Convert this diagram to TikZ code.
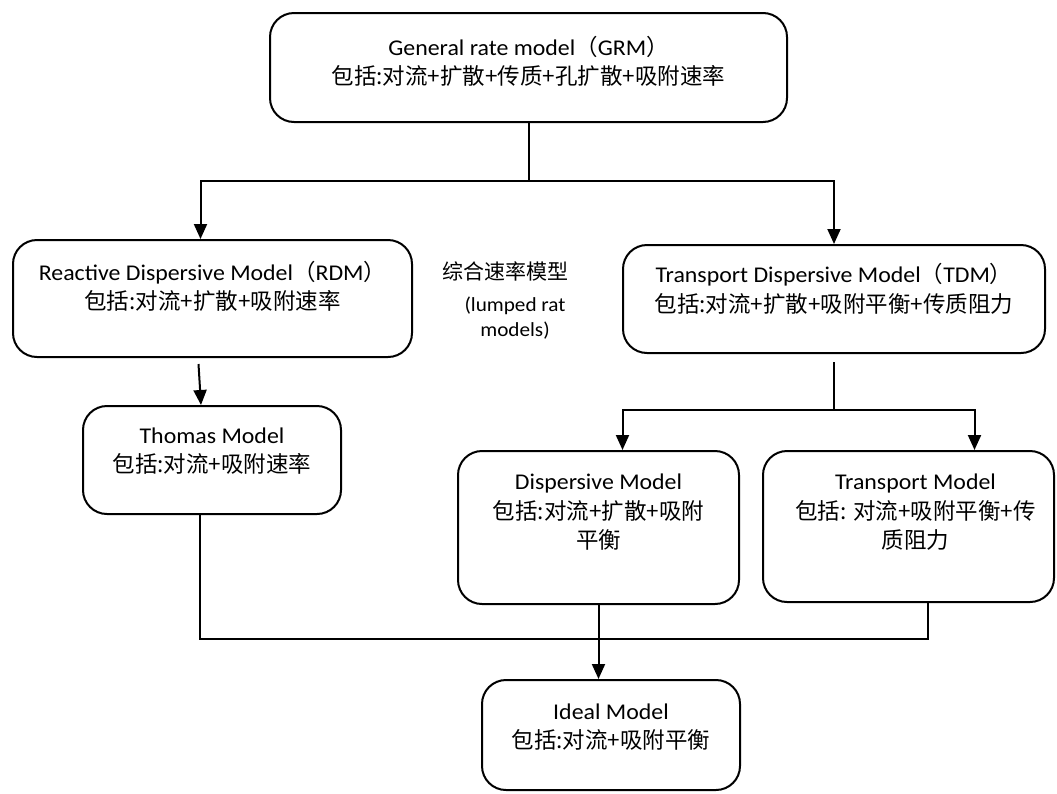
\documentclass[tikz,border=0pt]{standalone}
\usepackage{fontspec}
\setmainfont{Carlito}[FakeStretch=1.06]
\newfontfamily\cjk{Noto Sans CJK SC}
\usetikzlibrary{arrows.meta}

\newcommand{\zh}[1]{{\cjk #1}}

\begin{document}
\begin{tikzpicture}[>={Triangle[length=15pt,width=13pt]},x=1pt,y=-1pt,
    line width=2pt,
    box/.style={draw,rounded corners=24pt},
    txt/.style={align=center,font=\fontsize{22.5}{29.5}\selectfont}]
  \useasboundingbox (0,0) rectangle (1057,793);
  % model boxes
  \node[box,minimum width=517,minimum height=109] (grm)    at (528.5,67.5) {};
  \node[box,minimum width=399,minimum height=117] (rdm)    at (212.5,298.5) {};
  \node[box,minimum width=422,minimum height=108] (tdm)    at (834,299) {};
  \node[box,minimum width=258,minimum height=108] (thomas) at (212,460) {};
  \node[box,minimum width=281,minimum height=153] (disp)   at (598.5,527.5) {};
  \node[box,minimum width=291,minimum height=151] (trans)  at (908.5,526.5) {};
  \node[box,minimum width=258,minimum height=110] (ideal)  at (611,735) {};
  % texts
  \node[txt] (grmtext)    at ([yshift=6]grm)     {General rate model\zh{（}GRM\zh{）}\\\zh{包括:对流+扩散+传质+孔扩散+吸附速率}};
  \node[txt] (rdmtext)    at ([yshift=12]rdm)    {Reactive Dispersive Model\zh{（}RDM\zh{）}\\\zh{包括:对流+扩散+吸附速率}};
  \node[txt] (tdmtext)    at ([yshift=10]tdm)    {Transport Dispersive Model\zh{（}TDM\zh{）}\\\zh{包括:对流+扩散+吸附平衡+传质阻力}};
  \node[txt] (thomastext) at ([yshift=9]thomas)  {Thomas Model\\\zh{包括:对流+吸附速率}};
  \node[txt] (disptext)   at ([yshift=15]disp)   {Dispersive Model\\\zh{包括:对流+扩散+吸附}\\\zh{平衡}};
  \node[txt] (transtext)  at ([xshift=7,yshift=14]trans) {Transport Model\\\zh{包括: 对流+吸附平衡+传}\\\zh{质阻力}};
  \node[txt] (idealtext)  at ([yshift=8]ideal)   {Ideal Model\\\zh{包括:对流+吸附平衡}};
  \node[font=\fontsize{21}{28}\selectfont\cjk] (lumpzh) at (505,271) {综合速率模型};
  \node[align=center,font=\fontsize{20}{25}\selectfont] (lumpen) at (515,318) {(lumped rat\\models)};
  % connectors
  \coordinate (split1) at (528.5,181);
  \coordinate (split2) at (834,410);
  \coordinate (merge)  at (598.5,639);
  \draw (grm.south) -- (split1);
  \draw[->] (split1) -| ([xshift=-12]rdm.north);
  \draw[->] (split1) -| (tdm.north);
  \draw[->] ([xshift=-14,yshift=-6]rdm.south) -- ([xshift=-11]thomas.north);
  \draw ([yshift=-8]tdm.south) -- (split2);
  \draw[->] (split2) -| ([xshift=24]disp.north);
  \draw[->] (split2) -| ([xshift=66]trans.north);
  \draw ([xshift=-12]thomas.south) |- (merge) -| ([xshift=19]trans.south);
  \draw[->] (disp.south) -- (disp.south |- ideal.north);
\end{tikzpicture}
\end{document}
